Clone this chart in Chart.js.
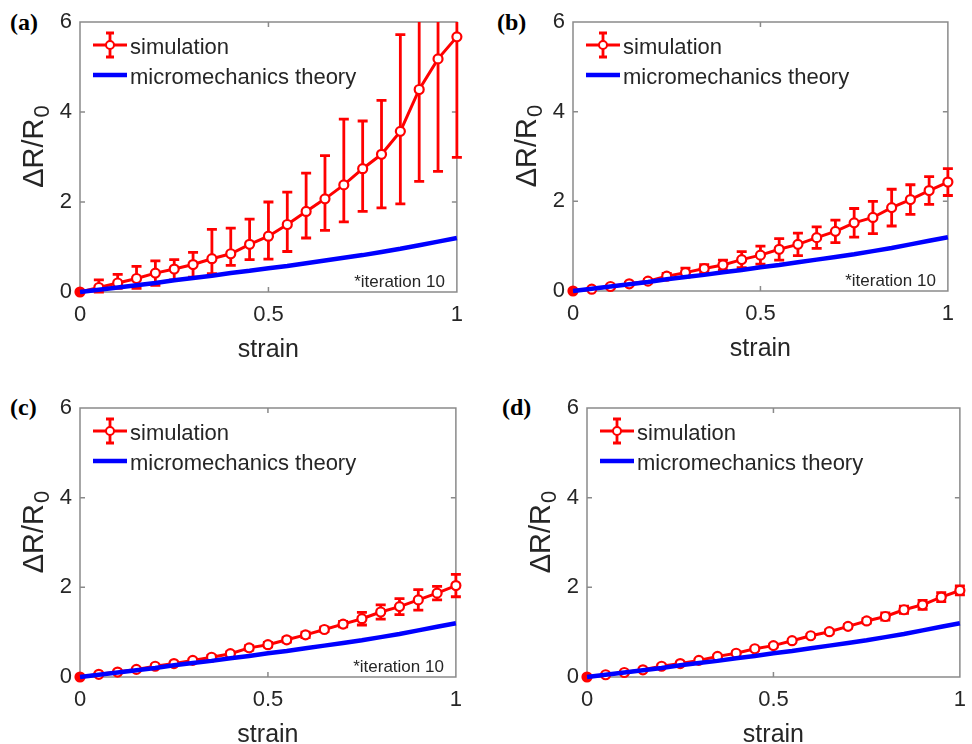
<!DOCTYPE html>
<html>
<head>
<meta charset="utf-8">
<title>ΔR/R0 vs strain</title>
<script src="https://cdn.jsdelivr.net/npm/chart.js@4.4.1/dist/chart.umd.min.js"></script>
<style>
html,body{margin:0;padding:0;background:#fff;overflow:hidden}
body{width:972px;height:744px;position:relative}
canvas{position:absolute}
.tag{position:absolute;font:bold 24px 'Liberation Serif','Times New Roman',serif;line-height:24px;color:#000}
</style>
</head>
<body>
<div class="tag" style="left:10px;top:10px">(a)</div>
<div class="tag" style="left:497px;top:10px">(b)</div>
<div class="tag" style="left:10px;top:395px">(c)</div>
<div class="tag" style="left:502px;top:395px">(d)</div>
<canvas id="pa"></canvas>
<canvas id="pb"></canvas>
<canvas id="pc"></canvas>
<canvas id="pd"></canvas>
<script>
// strain steps shared by every panel
const strain = [0, 0.05, 0.1, 0.15, 0.2, 0.25, 0.3, 0.35, 0.4, 0.45, 0.5,
                0.55, 0.6, 0.65, 0.7, 0.75, 0.8, 0.85, 0.9, 0.95, 1];

// micromechanics theory curve
const theory = [0, 0.05, 0.10, 0.15, 0.20, 0.26, 0.31, 0.36, 0.42, 0.47, 0.53,
                0.58, 0.64, 0.70, 0.76, 0.82, 0.89, 0.96, 1.04, 1.12, 1.20];

// (a) simulation mean with lower / upper ends of the error bars
const simA     = [0, 0.10, 0.20, 0.30, 0.42, 0.51, 0.61, 0.74, 0.85, 1.06, 1.24,
                  1.50, 1.79, 2.07, 2.38, 2.74, 3.06, 3.57, 4.50, 5.18, 5.67];
const simALow  = [0, 0.00, 0.08, 0.08, 0.15, 0.27, 0.33, 0.41, 0.59, 0.72, 0.73,
                  0.90, 1.20, 1.37, 1.56, 1.79, 1.87, 1.96, 2.46, 2.68, 2.99];
const simAHigh = [0, 0.27, 0.39, 0.57, 0.69, 0.72, 0.88, 1.39, 1.42, 1.62, 2.00,
                  2.22, 2.64, 3.03, 3.84, 3.80, 4.26, 5.72, 6.54, 7.68, 8.35];

// (b)
const simB = [0, 0.04, 0.10, 0.16, 0.22, 0.33, 0.41, 0.50, 0.58, 0.70, 0.80,
              0.93, 1.04, 1.19, 1.33, 1.52, 1.64, 1.86, 2.04, 2.24, 2.43];
const errB = [0, 0.02, 0.03, 0.03, 0.04, 0.06, 0.10, 0.09, 0.11, 0.18, 0.20,
              0.24, 0.25, 0.24, 0.25, 0.32, 0.36, 0.41, 0.33, 0.31, 0.30];

// (c)
const simC = [0, 0.06, 0.11, 0.17, 0.24, 0.30, 0.37, 0.44, 0.52, 0.65, 0.72,
              0.83, 0.94, 1.06, 1.18, 1.30, 1.45, 1.57, 1.72, 1.87, 2.04];
const errC = [0, 0.02, 0.02, 0.03, 0.03, 0.03, 0.03, 0.04, 0.04, 0.05, 0.05,
              0.05, 0.06, 0.05, 0.06, 0.14, 0.16, 0.18, 0.23, 0.15, 0.25];

// (d)
const simD = [0, 0.05, 0.10, 0.16, 0.24, 0.30, 0.37, 0.46, 0.53, 0.63, 0.70,
              0.81, 0.92, 1.01, 1.13, 1.25, 1.35, 1.50, 1.61, 1.78, 1.93];
const errD = [0, 0.01, 0.02, 0.02, 0.03, 0.03, 0.03, 0.03, 0.03, 0.03, 0.03,
              0.03, 0.03, 0.04, 0.04, 0.05, 0.08, 0.08, 0.10, 0.10, 0.10];

const xTicks = [0, 0.5, 1];
const yTicks = [0, 2, 4, 6];

const FONT = "'Liberation Sans', Arial, sans-serif";
const INK = '#262626';
const RED = '#ff0000';
const BLUE = '#0000ff';

// plot boxes on the page: left, top, right, bottom
const panels = [
  { id: 'pa', box: [80, 22, 457, 292], sim: simA, low: simALow, high: simAHigh, note: true },
  { id: 'pb', box: [573, 22, 948, 291], sim: simB, err: errB, note: true },
  { id: 'pc', box: [80, 408, 456, 677], sim: simC, err: errC, note: true },
  { id: 'pd', box: [587, 408, 960, 677], sim: simD, err: errD, note: false }
];

const AXIS_W = 80, AXIS_H = 72, PAD_TOP = 22, PAD_RIGHT = 16;

function errBar(ctx, px, pyLo, pyHi, cap) {
  ctx.moveTo(px, pyLo); ctx.lineTo(px, pyHi);
  ctx.moveTo(px - cap, pyLo); ctx.lineTo(px + cap, pyLo);
  ctx.moveTo(px - cap, pyHi); ctx.lineTo(px + cap, pyHi);
}

const decor = {
  id: 'decor',
  beforeDatasetsDraw(chart, args, p) {
    const { ctx, chartArea: a, scales: { x, y } } = chart;
    ctx.save();
    // axes box with inward ticks on all four sides
    ctx.strokeStyle = '#8a8a8a';
    ctx.lineWidth = 1.5;
    ctx.strokeRect(a.left, a.top, a.right - a.left, a.bottom - a.top);
    ctx.beginPath();
    xTicks.slice(1, -1).forEach(v => {
      const px = x.getPixelForValue(v);
      ctx.moveTo(px, a.bottom); ctx.lineTo(px, a.bottom - 5);
      ctx.moveTo(px, a.top); ctx.lineTo(px, a.top + 5);
    });
    yTicks.slice(1, -1).forEach(v => {
      const py = y.getPixelForValue(v);
      ctx.moveTo(a.left, py); ctx.lineTo(a.left + 5, py);
      ctx.moveTo(a.right, py); ctx.lineTo(a.right - 5, py);
    });
    ctx.stroke();

    // error bars, cut at the top of the axes
    ctx.beginPath();
    ctx.rect(a.left - 20, a.top, a.right - a.left + 40, a.bottom - a.top + 20);
    ctx.clip();
    ctx.strokeStyle = RED;
    ctx.lineWidth = 2.8;
    ctx.beginPath();
    strain.forEach((s, i) => {
      const lo = p.low ? p.low[i] : p.sim[i] - p.err[i];
      const hi = p.high ? p.high[i] : p.sim[i] + p.err[i];
      if (hi - lo <= 0) return;
      errBar(ctx, x.getPixelForValue(s), y.getPixelForValue(lo), y.getPixelForValue(hi), 5);
    });
    ctx.stroke();
    ctx.restore();
  },
  afterDatasetsDraw(chart, args, p) {
    const { ctx, chartArea: a } = chart;
    ctx.save();

    // legend
    const lx = a.left, ly = a.top;
    ctx.strokeStyle = RED;
    ctx.lineWidth = 2.8;
    ctx.beginPath();
    ctx.moveTo(lx + 13, ly + 23); ctx.lineTo(lx + 47, ly + 23);
    errBar(ctx, lx + 30, ly + 35, ly + 11, 4);
    ctx.stroke();
    ctx.beginPath();
    ctx.arc(lx + 30, ly + 23, 4, 0, Math.PI * 2);
    ctx.fillStyle = '#fff';
    ctx.fill();
    ctx.lineWidth = 2;
    ctx.stroke();

    ctx.strokeStyle = BLUE;
    ctx.lineWidth = 4.5;
    ctx.beginPath();
    ctx.moveTo(lx + 13, ly + 53); ctx.lineTo(lx + 47, ly + 53);
    ctx.stroke();

    ctx.fillStyle = INK;
    ctx.font = `22px ${FONT}`;
    ctx.textAlign = 'left';
    ctx.textBaseline = 'alphabetic';
    ctx.fillText('simulation', lx + 50, ly + 32);
    ctx.fillText('micromechanics theory', lx + 50, ly + 62);

    // x axis title
    ctx.font = `25px ${FONT}`;
    ctx.textAlign = 'center';
    ctx.fillText('strain', (a.left + a.right) / 2, a.bottom + 65);

    // y axis title with subscript
    ctx.save();
    ctx.translate(a.left - 37, (a.top + a.bottom) / 2 - 10);
    ctx.rotate(-Math.PI / 2);
    ctx.textAlign = 'left';
    ctx.font = `29px ${FONT}`;
    const main = 'ΔR/R';
    const w1 = ctx.measureText(main).width;
    ctx.font = `22px ${FONT}`;
    const w2 = ctx.measureText('0').width;
    const x0 = -(w1 + w2) / 2;
    ctx.font = `29px ${FONT}`;
    ctx.fillText(main, x0, 0);
    ctx.font = `22px ${FONT}`;
    ctx.fillText('0', x0 + w1 + 1, 6);
    ctx.restore();

    if (p.note) {
      ctx.font = `17px ${FONT}`;
      ctx.textAlign = 'right';
      ctx.fillText('*iteration 10', a.right - 12, a.bottom - 5);
    }
    ctx.restore();
  }
};

function makePanel(p) {
  const [l, t, r, b] = p.box;
  const cv = document.getElementById(p.id);
  cv.width = r - l + AXIS_W + PAD_RIGHT;
  cv.height = b - t + PAD_TOP + AXIS_H;
  cv.style.left = (l - AXIS_W) + 'px';
  cv.style.top = (t - PAD_TOP) + 'px';

  const pts = arr => strain.map((s, i) => ({ x: s, y: arr[i] }));

  new Chart(cv, {
    type: 'line',
    data: {
      datasets: [
        {
          label: 'micromechanics theory',
          data: pts(theory),
          borderColor: BLUE,
          borderWidth: 4.5,
          pointRadius: 0,
          clip: false,
          order: 0
        },
        {
          label: 'simulation',
          data: pts(p.sim),
          borderColor: RED,
          borderWidth: 3,
          pointRadius: 4.5,
          pointBorderWidth: 2.2,
          pointBorderColor: RED,
          pointBackgroundColor: strain.map((s, i) => i === 0 ? RED : '#fff'),
          clip: false,
          order: 1
        }
      ]
    },
    options: {
      responsive: false,
      animation: false,
      events: [],
      layout: { padding: { left: 0, top: PAD_TOP, right: PAD_RIGHT, bottom: 0 } },
      plugins: {
        legend: { display: false },
        tooltip: { enabled: false },
        decor: p
      },
      scales: {
        x: {
          type: 'linear',
          min: 0, max: 1,
          afterBuildTicks: s => { s.ticks = xTicks.map(v => ({ value: v })); },
          afterFit: s => { s.height = AXIS_H; },
          grid: { display: false, drawTicks: false },
          border: { display: false },
          ticks: { font: { family: FONT, size: 22 }, color: INK, padding: 10, maxRotation: 0,
                   callback: v => String(v) }
        },
        y: {
          type: 'linear',
          min: 0, max: 6,
          afterBuildTicks: s => { s.ticks = yTicks.map(v => ({ value: v })); },
          afterFit: s => { s.width = AXIS_W; },
          grid: { display: false, drawTicks: false },
          border: { display: false },
          ticks: { font: { family: FONT, size: 22 }, color: INK, padding: 8,
                   callback: v => String(v) }
        }
      }
    },
    plugins: [decor]
  });
}

panels.forEach(makePanel);
</script>
</body>
</html>
